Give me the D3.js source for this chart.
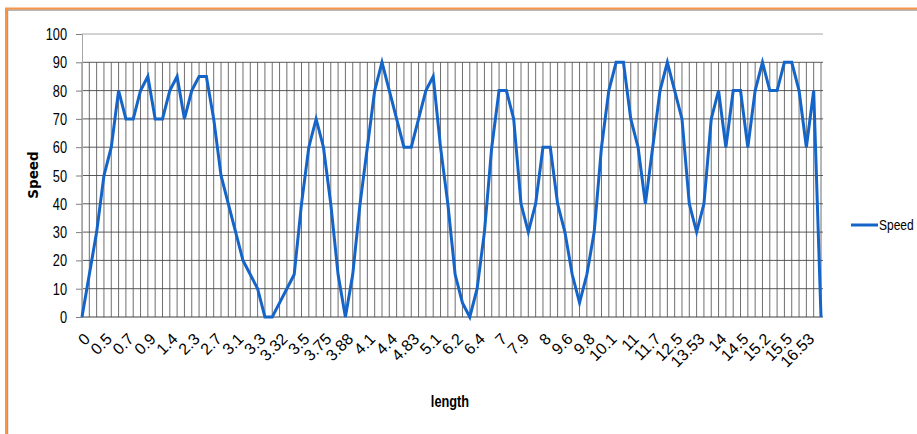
<!DOCTYPE html>
<html>
<head>
<meta charset="utf-8">
<script src="https://cdn.jsdelivr.net/npm/d3@7"></script>
<style>
  body { margin: 0; background: #fff; }
  svg { display: block; }
</style>
</head>
<body>
<div id="chart"></div>
<script>
// speed readings, one per sample point
const speed = [
  0, 15, 30, 50, 60, 80, 70, 70, 80, 85,
  70, 70, 80, 85, 70, 80, 85, 85, 70, 50,
  40, 30, 20, 15, 10, 0, 0, 5, 10, 15,
  40, 60, 70, 60, 40, 15, 0, 15, 40, 60,
  80, 90, 80, 70, 60, 60, 70, 80, 85, 60,
  40, 15, 5, 0, 10, 30, 60, 80, 80, 70,
  40, 30, 40, 60, 60, 40, 30, 15, 5, 15,
  30, 60, 80, 90, 90, 70, 60, 40, 60, 80,
  90, 80, 70, 40, 30, 40, 70, 80, 60, 80,
  80, 60, 80, 90, 80, 80, 90, 90, 80, 60,
  80, 0
];

// length labels, shown on every third sample
const lengthLabels = [
  '0', '0.5', '0.7', '0.9', '1.4', '2.3', '2.7', '3.1', '3.3', '3.32',
  '3.5', '3.75', '3.88', '4.1', '4.4', '4.83', '5.1', '6.2', '6.4', '7',
  '7.9', '8', '9.6', '9.8', '10.1', '11', '11.7', '12.5', '13.53', '14',
  '14.5', '15.2', '15.5', '16.53'
];
const labelEvery = 3;
const yTicks = [0, 10, 20, 30, 40, 50, 60, 70, 80, 90, 100];
const dropTop = 90;

const W = 917, H = 434;
const margin = { top: 34, right: 96, bottom: 117, left: 82 };
const sans = '"Liberation Sans", Arial, sans-serif';
const narrowX = 0.8; // no condensed font here, squeeze instead

const svg = d3.select('#chart').append('svg')
    .attr('width', W)
    .attr('height', H);

// frame
svg.append('rect').attr('x', 7.5).attr('y', 10).attr('width', W).attr('height', H)
    .attr('fill', 'none').attr('stroke', '#a0a0a0').attr('stroke-width', 1.5);
svg.append('rect').attr('x', 6).attr('y', 8.5).attr('width', W).attr('height', H)
    .attr('fill', 'none').attr('stroke', '#f79646').attr('stroke-width', 2);

const x = d3.scalePoint()
    .domain(d3.range(speed.length))
    .range([margin.left, 821]);

const y = d3.scaleLinear()
    .domain([0, 100])
    .range([317, margin.top]);

// horizontal gridlines
svg.append('g')
  .selectAll('line')
  .data(yTicks.slice(1))
  .join('line')
    .attr('x1', margin.left)
    .attr('x2', 823)
    .attr('y1', d => y(d))
    .attr('y2', d => y(d))
    .attr('stroke', d => d === 100 ? '#a6a6a6' : '#595959')
    .attr('stroke-width', 1);

// vertical lines at every sample
svg.append('g')
  .selectAll('line')
  .data(speed)
  .join('line')
    .attr('x1', (d, i) => x(i))
    .attr('x2', (d, i) => x(i))
    .attr('y1', y(dropTop))
    .attr('y2', y(0))
    .attr('stroke', '#4a4a4a')
    .attr('stroke-width', 0.8);

// y axis
const yAxis = svg.append('g')
    .attr('transform', `translate(${margin.left},0)`)
    .call(d3.axisLeft(y).tickValues(yTicks).tickSize(6).tickFormat(''));
yAxis.select('.domain').attr('stroke', '#a6a6a6');
yAxis.selectAll('.tick line').attr('stroke', '#7f7f7f');

svg.append('g')
  .selectAll('text')
  .data(yTicks)
  .join('text')
    .attr('transform', d => `translate(67,${y(d) + 6}) scale(${narrowX},1)`)
    .attr('text-anchor', 'end')
    .attr('font-family', sans)
    .attr('font-size', 16)
    .text(d => d);

// x axis baseline
svg.append('line')
    .attr('x1', margin.left).attr('x2', 823)
    .attr('y1', y(0)).attr('y2', y(0))
    .attr('stroke', '#404040');

// x labels
svg.append('g')
  .selectAll('text')
  .data(lengthLabels)
  .join('text')
    .attr('transform', (d, i) => `translate(${x(i * labelEvery) + 9},${y(0) + 23}) rotate(-45)`)
    .attr('text-anchor', 'end')
    .attr('font-family', sans)
    .attr('font-size', 16)
    .attr('fill', '#000')
    .text(d => d);

// line
svg.append('path')
    .datum(speed)
    .attr('fill', 'none')
    .attr('stroke', '#1565c8')
    .attr('stroke-width', 3)
    .attr('stroke-linejoin', 'miter')
    .attr('d', d3.line()
      .x((d, i) => x(i))
      .y(d => y(d)));

// axis titles
svg.append('text')
    .attr('transform', `translate(38,175) rotate(-90)`)
    .attr('text-anchor', 'middle')
    .attr('font-family', '"DejaVu Sans", sans-serif')
    .attr('font-weight', 'bold')
    .attr('font-size', 13.5)
    .text('Speed');

svg.append('text')
    .attr('transform', `translate(450,407) scale(${narrowX},1)`)
    .attr('text-anchor', 'middle')
    .attr('font-family', sans)
    .attr('font-weight', 'bold')
    .attr('font-size', 16)
    .text('length');

// legend
svg.append('line')
    .attr('x1', 851).attr('x2', 878)
    .attr('y1', 225).attr('y2', 225)
    .attr('stroke', '#1565c8')
    .attr('stroke-width', 3);
svg.append('text')
    .attr('transform', `translate(879,230) scale(${narrowX},1)`)
    .attr('font-family', sans)
    .attr('font-size', 15)
    .text('Speed');
</script>
</body>
</html>
